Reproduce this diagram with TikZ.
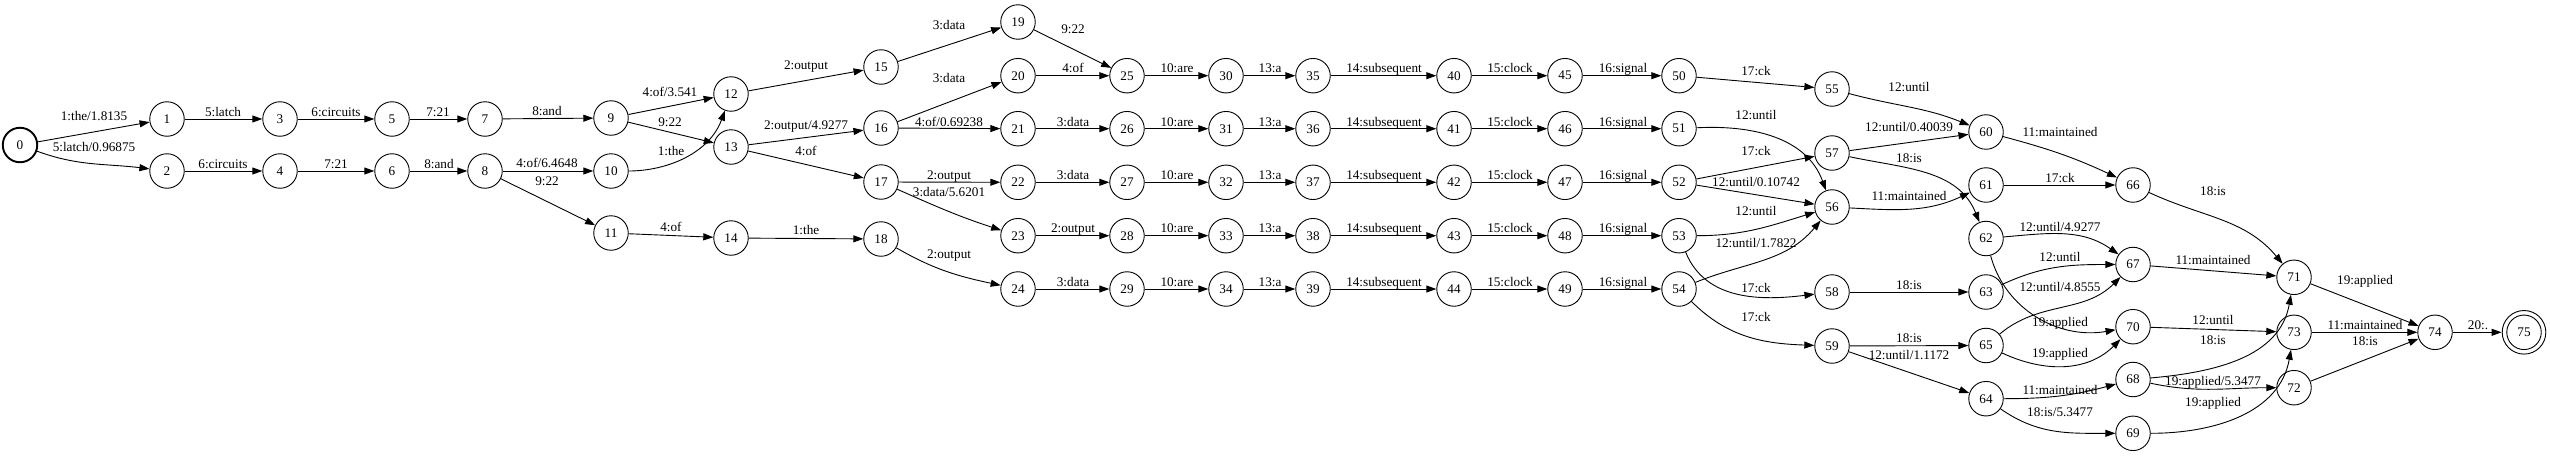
\documentclass[tikz,border=0pt]{standalone}
\usepackage{fontspec}
\setmainfont{Liberation Serif}
\usetikzlibrary{arrows.meta}
\begin{document}
\begin{tikzpicture}[x=1pt,y=1pt,
  st/.style={circle,draw,line width=0.9pt,minimum size=34.5pt,inner sep=0pt,font=\fontsize{13.2}{15}\selectfont},
  startst/.style={st,line width=1.9pt},
  finst/.style={st,outer sep=5.2pt},
  lb/.style={inner sep=0pt,font=\fontsize{13.2}{15}\selectfont,text height=9pt,text depth=3pt},
  ed/.style={-{Triangle[length=10pt,width=7pt]},line width=0.9pt}]
\useasboundingbox (0,0) rectangle (2550,-455);
% ---- nodes
\node[startst] (n0) at (20,-145) {0};
\node[st] (n1) at (167,-119) {1};
\node[st] (n2) at (167,-171) {2};
\node[st] (n3) at (280,-119) {3};
\node[st] (n4) at (280,-171) {4};
\node[st] (n5) at (392,-119) {5};
\node[st] (n6) at (392,-171) {6};
\node[st] (n7) at (485,-119) {7};
\node[st] (n8) at (485,-171) {8};
\node[st] (n9) at (611,-118) {9};
\node[st] (n10) at (611,-171) {10};
\node[st] (n11) at (611,-233) {11};
\node[st] (n12) at (731,-94) {12};
\node[st] (n13) at (731,-147) {13};
\node[st] (n14) at (731,-238) {14};
\node[st] (n15) at (881,-67) {15};
\node[st] (n16) at (881,-128) {16};
\node[st] (n17) at (881,-182) {17};
\node[st] (n18) at (881,-239) {18};
\node[st] (n19) at (1018,-22) {19};
\foreach \c/\x in {0/1018,1/1127,2/1226,3/1313,4/1454,5/1565,6/1679}
  \foreach \r/\y in {0/75.7,1/128.7,2/182.3,3/235.7,4/289}{
    \pgfmathtruncatemacro\k{20+5*\c+\r}
    \node[st] (n\k) at (\x,-\y) {\k};
  }
\node[st] (n55) at (1832,-89) {55};
\node[st] (n57) at (1832,-153) {57};
\node[st] (n56) at (1832,-207) {56};
\node[st] (n58) at (1832,-292) {58};
\node[st] (n59) at (1832,-346) {59};
\node[st] (n60) at (1986,-132) {60};
\node[st] (n61) at (1986,-185) {61};
\node[st] (n62) at (1986,-238.5) {62};
\node[st] (n63) at (1986,-292) {63};
\node[st] (n65) at (1986,-345.5) {65};
\node[st] (n64) at (1986,-398.7) {64};
\node[st] (n66) at (2133,-185) {66};
\node[st] (n67) at (2133,-264.5) {67};
\node[st] (n70) at (2133,-326.7) {70};
\node[st] (n68) at (2133,-379.5) {68};
\node[st] (n69) at (2133,-433.3) {69};
\node[st] (n71) at (2294,-277.3) {71};
\node[st] (n73) at (2294,-332.3) {73};
\node[st] (n72) at (2294,-387.7) {72};
\node[st] (n74) at (2435,-332.3) {74};
\node[finst] (n75) at (2524,-332.3) {75};
\draw[line width=0.9pt] (n75.center) circle[radius=21.8pt];
% ---- edges, left part
\draw[ed] (n0) -- (n1);
\draw[ed] (n0) to[out=-20,in=173] (n2);
\draw[ed] (n1) -- (n3);
\draw[ed] (n3) -- (n5);
\draw[ed] (n5) -- (n7);
\draw[ed] (n7) -- (n9);
\draw[ed] (n2) -- (n4);
\draw[ed] (n4) -- (n6);
\draw[ed] (n6) -- (n8);
\draw[ed] (n9) -- (n12);
\draw[ed] (n9) -- (n13);
\draw[ed] (n8) -- (n10);
\draw[ed] (n8) -- (n11);
\draw[ed] (n10) .. controls +(55,0) and +(-22,-60) .. (n12);
\draw[ed] (n11) -- (n14);
\draw[ed] (n12) -- (n15);
\draw[ed] (n13) -- (n16);
\draw[ed] (n13) -- (n17);
\draw[ed] (n14) -- (n18);
\draw[ed] (n15) -- (n19);
\draw[ed] (n16) -- (n20);
\draw[ed] (n16) -- (n21);
\draw[ed] (n17) -- (n22);
\draw[ed] (n17) to[out=-24,in=162] (n23);
\draw[ed] (n18) to[out=-30,in=168] (n24);
\draw[ed] (n19) -- (n25);
\draw[ed] (n20) -- (n25);
\draw[ed] (n21) -- (n26);
\draw[ed] (n22) -- (n27);
\draw[ed] (n23) -- (n28);
\draw[ed] (n24) -- (n29);
\foreach \c in {1,...,5}
  \foreach \r in {0,...,4}{
    \pgfmathtruncatemacro\a{20+5*\c+\r}
    \pgfmathtruncatemacro\b{25+5*\c+\r}
    \draw[ed] (n\a) -- (n\b);
  }
% ---- edges, right part
\draw[ed] (n50) -- (n55);
\draw[ed] (n55) to[out=-15,in=158] (n60);
\draw[ed] (n51) to[out=3,in=110] (n56);
\draw[ed] (n52) -- (n57);
\draw[ed] (n52) -- (n56);
\draw[ed] (n53) to[out=0,in=197] (n56);
\draw[ed] (n54) to[out=22,in=230] (n56);
\draw[ed] (n53) to[out=-68,in=187] (n58);
\draw[ed] (n54) to[out=-45,in=178] (n59);
\draw[ed] (n57) -- (n60);
\draw[ed] (n57) to[out=-12,in=112] (n62);
\draw[ed] (n56) to[out=-3,in=205] (n61);
\draw[ed] (n58) -- (n63);
\draw[ed] (n59) -- (n65);
\draw[ed] (n59) -- (n64);
\draw[ed] (n60) to[out=-15,in=155] (n66);
\draw[ed] (n61) -- (n66);
\draw[ed] (n62) to[out=5,in=145] (n67);
\draw[ed] (n62) to[out=-75,in=190] (n70);
\draw[ed] (n63) to[out=25,in=180] (n67);
\draw[ed] (n65) to[out=40,in=225] (n67);
\draw[ed] (n65) to[out=-25,in=225] (n70);
\draw[ed] (n64) to[out=0,in=195] (n68);
\draw[ed] (n64) to[out=-35,in=180] (n69);
\draw[ed] (n66) to[out=-25,in=130] (n71);
\draw[ed] (n67) -- (n71);
\draw[ed] (n68) to[out=5,in=-100] (n71);
\draw[ed] (n70) -- (n73);
\draw[ed] (n68) to[out=-12,in=180] (n72);
\draw[ed] (n69) to[out=0,in=-100] (n73);
\draw[ed] (n71) -- (n74);
\draw[ed] (n73) -- (n74);
\draw[ed] (n72) -- (n74);
\draw[ed] (n74) -- (n75);
% ---- labels, left part
\node[lb] (l0-1) at (94,-117) {1:the/1.8135};
\node[lb] (l0-2) at (94,-148) {5:latch/0.96875};
\node[lb] (l1-3) at (223,-113) {5:latch};
\node[lb] (l3-5) at (336,-113) {6:circuits};
\node[lb] (l5-7) at (438,-113) {7:21};
\node[lb] (l7-9) at (547,-112) {8:and};
\node[lb] (l2-4) at (223,-165) {6:circuits};
\node[lb] (l4-6) at (336,-165) {7:21};
\node[lb] (l6-8) at (439,-165) {8:and};
\node[lb] (l8-10) at (547,-164) {4:of/6.4648};
\node[lb] (l8-11) at (547,-182) {9:22};
\node[lb] (l9-12) at (670,-93) {4:of/3.541};
\node[lb] (l9-13) at (670,-123) {9:22};
\node[lb] (l10-12) at (671,-152) {1:the};
\node[lb] (l11-14) at (671,-228) {4:of};
\node[lb] (l12-15) at (806,-66) {2:output};
\node[lb] (l13-16) at (806,-126) {2:output/4.9277};
\node[lb] (l13-17) at (806,-152) {4:of};
\node[lb] (l14-18) at (806,-231) {1:the};
\node[lb] (l15-19) at (949,-26) {3:data};
\node[lb] (l16-20) at (949,-79) {3:data};
\node[lb] (l16-21) at (949,-123) {4:of/0.69238};
\node[lb] (l17-22) at (949,-176) {2:output};
\node[lb] (l17-23) at (949,-193) {3:data/5.6201};
\node[lb] (l18-24) at (949,-255) {2:output};
\node[lb] (l19-25) at (1073,-30) {9:22};
\node[lb] (l20-25) at (1073,-69) {4:of};
\node[lb] (l21-26) at (1073,-123) {3:data};
\node[lb] (l22-27) at (1073,-176) {3:data};
\node[lb] (l23-28) at (1073,-229) {2:output};
\node[lb] (l24-29) at (1073,-283) {3:data};
\foreach \r/\y in {0/69,1/123,2/176,3/229,4/283}{
  \node[lb] (la\r) at (1177,-\y) {10:are};
  \node[lb] (lb\r) at (1270,-\y) {13:a};
  \node[lb] (lc\r) at (1384,-\y) {14:subsequent};
  \node[lb] (ld\r) at (1510,-\y) {15:clock};
  \node[lb] (le\r) at (1623,-\y) {16:signal};
}
% ---- labels, right part
\node[lb] (l50-55) at (1756,-72) {17:ck};
\node[lb] (l55-60) at (1909,-88) {12:until};
\node[lb] (l51-56) at (1756,-116) {12:until};
\node[lb] (l57-60) at (1909,-128) {12:until/0.40039};
\node[lb] (l52-57) at (1756,-152) {17:ck};
\node[lb] (l57-62) at (1909,-159) {18:is};
\node[lb] (l52-56) at (1756,-183) {12:until/0.10742};
\node[lb] (l56-61) at (1909,-197) {11:maintained};
\node[lb] (l53-56) at (1756,-212) {12:until};
\node[lb] (l54-56) at (1756,-244) {12:until/1.7822};
\node[lb] (l53-58) at (1756,-289) {17:ck};
\node[lb] (l58-63) at (1909,-286) {18:is};
\node[lb] (l54-59) at (1756,-318) {17:ck};
\node[lb] (l59-65) at (1909,-339) {18:is};
\node[lb] (l59-64) at (1909,-356) {12:until/1.1172};
\node[lb] (l60-66) at (2060,-133) {11:maintained};
\node[lb] (l61-66) at (2060,-179) {17:ck};
\node[lb] (l62-67) at (2060,-228) {12:until/4.9277};
\node[lb] (l63-67) at (2060,-258) {12:until};
\node[lb] (l65-67) at (2060,-288) {12:until/4.8555};
\node[lb] (l62-70) at (2060,-323) {19:applied};
\node[lb] (l65-70) at (2060,-354) {19:applied};
\node[lb] (l64-68) at (2060,-391) {11:maintained};
\node[lb] (l64-69) at (2060,-413) {18:is/5.3477};
\node[lb] (l66-71) at (2213,-192) {18:is};
\node[lb] (l67-71) at (2213,-261) {11:maintained};
\node[lb] (l70-73) at (2213,-321) {12:until};
\node[lb] (l68-71) at (2213,-341) {18:is};
\node[lb] (l68-72) at (2213,-382) {19:applied/5.3477};
\node[lb] (l69-73) at (2213,-403) {19:applied};
\node[lb] (l71-74) at (2365,-281) {19:applied};
\node[lb] (l73-74) at (2365,-326) {11:maintained};
\node[lb] (l72-74) at (2365,-342) {18:is};
\node[lb] (l74-75) at (2478,-326) {20:.};
\end{tikzpicture}
\end{document}
